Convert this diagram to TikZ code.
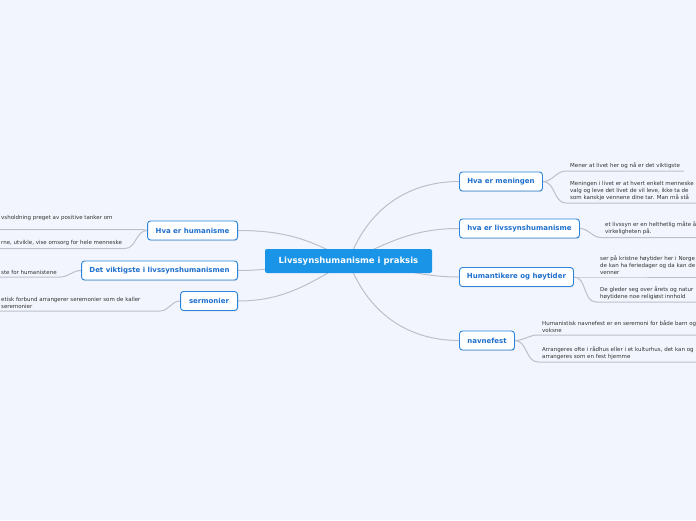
\documentclass[tikz,border=0pt]{standalone}
\usepackage{fontspec}
\setmainfont{DejaVu Sans}
\usetikzlibrary{shadows}
\definecolor{bgc}{HTML}{F2F5FD}
\definecolor{cfill}{HTML}{1A94E6}
\definecolor{bblue}{HTML}{2A85DA}
\definecolor{btext}{HTML}{1E6FCC}
\definecolor{lnc}{HTML}{BCC0CA}
\definecolor{ltext}{HTML}{333333}
\pgfdeclarelayer{bg}
\pgfdeclarelayer{lines}
\pgfsetlayers{bg,lines,main}
\tikzset{
  centernode/.style={fill=cfill, text=white, rounded corners=2pt, minimum height=24pt,
    minimum width=167pt, inner sep=0pt, font=\fontsize{8.5}{10}\selectfont\bfseries},
  branch/.style={draw=bblue, line width=0.9pt, fill=white, text=btext, rounded corners=3pt,
    minimum height=19pt, inner xsep=6pt, inner ysep=0pt, font=\fontsize{7}{8}\selectfont\bfseries,
    drop shadow={shadow xshift=0.6pt, shadow yshift=-0.9pt, opacity=0.25, fill=black!50}},
  leaf/.style={text=ltext, align=left, inner xsep=4pt, inner ysep=2.2pt,
    font=\fontsize{5.5}{7.2}\selectfont},
  conn/.style={draw=lnc, line width=1pt}
}
\begin{document}
\begin{tikzpicture}[x=1pt,y=1pt]
\begin{pgfonlayer}{bg}
\fill[bgc] (0,0) rectangle (696,-520);
\end{pgfonlayer}
\useasboundingbox (0,0) rectangle (696,-520);
\clip (0,0) rectangle (696,-520);
\coordinate (redge) at (700,0);

% center
\node[centernode] (c) at (348.5,-261) {Livssynshumanisme i praksis};

% left branches
\node[branch, minimum width=90pt, anchor=east] (hh) at (238,-230.5) {Hva er humanisme};
\node[branch, minimum width=156pt, anchor=east] (dv) at (238,-270.5) {Det viktigste i livssynshumanismen};
\node[branch, minimum width=57pt, anchor=east] (se) at (238,-301) {sermonier};

% right branches
\node[branch, minimum width=83pt, anchor=west] (hm) at (459,-181.5) {Hva er meningen};
\node[branch, minimum width=120pt, anchor=west] (hl) at (459,-228.5) {hva er livssynshumanisme};
\node[branch, minimum width=114pt, anchor=west] (ht) at (459,-277) {Humantikere og høytider};
\node[branch, minimum width=55pt, anchor=west] (nf) at (459,-340.5) {navnefest};

% right leaves
\node[leaf, anchor=south west] (m1) at (566,-171) {Mener at livet her og nå er det viktigste};
\node[leaf, anchor=south west] (m2) at (566,-203) {Meningen i livet er at hvert enkelt menneske\\valg og leve det livet de vil leve, ikke ta de\\som kanskje vennene dine tar. Man må stå};
\node[leaf, anchor=south west] (l1) at (601,-237.5) {et livssyn er en helthetlig måte å\\virkeligheten på.};
\node[leaf, anchor=south west] (h1) at (596,-277) {ser på kristne høytider her i Norge\\de kan ha feriedager og da kan de\\venner};
\node[leaf, anchor=south west] (h2) at (596,-302) {De gleder seg over årets og natur\\høytidene noe religiøst innhold};
\node[leaf, anchor=south west] (n1) at (538,-335) {Humanistisk navnefest er en seremoni for både barn og\\voksne};
\node[leaf, anchor=south west] (n2) at (538,-362) {Arrangeres ofte i rådhus eller i et kulturhus, det kan og\\arrangeres som en fest hjemme};

% left leaves
\node[leaf, anchor=south west] (a1) at (-3,-229.5) {vsholdning preget av positive tanker om\\~};
\node[leaf, anchor=south west] (a2) at (-3,-248.5) {rne, utvikle, vise omsorg for hele menneske};
\node[leaf, anchor=south west] (a3) at (-3,-277) {ste for humanistene};
\node[leaf, anchor=south west] (a4) at (-3,-311) {etisk forbund arrangerer seremonier som de kaller\\seremonier};

\coordinate (e1) at (143,-229.5);
\coordinate (e2) at (125,-248.5);
\coordinate (e3) at (60,-277);
\coordinate (e4) at (160,-311);

\begin{pgfonlayer}{lines}
% center to branches
\draw[conn] (c.center) to[out=150,in=0] (hh.east);
\draw[conn] (c.center) to[out=180,in=0] (dv.east);
\draw[conn] (c.center) to[out=210,in=0] (se.east);
\draw[conn] (c.center) to[out=70,in=180] (hm.west);
\draw[conn] (c.center) to[out=25,in=180] (hl.west);
\draw[conn] (c.center) to[out=-5,in=180] (ht.west);
\draw[conn] (c.center) to[out=-70,in=180] (nf.west);
% right leaves
\draw[conn] (hm.east) to[out=0,in=180] (m1.south west) -- (m1.south east);
\draw[conn] (hm.east) to[out=0,in=180] (m2.south west) -- (m2.south west -| redge);
\draw[conn] (hl.east) to[out=0,in=180] (l1.south west) -- (l1.south west -| redge);
\draw[conn] (ht.east) to[out=0,in=180] (h1.south west) -- (h1.south west -| redge);
\draw[conn] (ht.east) to[out=0,in=180] (h2.south west) -- (h2.south west -| redge);
\draw[conn] (nf.east) to[out=0,in=180] (n1.south west) -- (n1.south west -| redge);
\draw[conn] (nf.east) to[out=0,in=180] (n2.south west) -- (n2.south west -| redge);
% left leaves
\draw[conn] (hh.west) to[out=180,in=0] (e1) -- (a1.south west);
\draw[conn] (hh.west) to[out=180,in=0] (e2) -- (a2.south west);
\draw[conn] (dv.west) to[out=180,in=0] (e3) -- (a3.south west);
\draw[conn] (se.west) to[out=180,in=0] (e4) -- (a4.south west);
\end{pgfonlayer}
\end{tikzpicture}
\end{document}
